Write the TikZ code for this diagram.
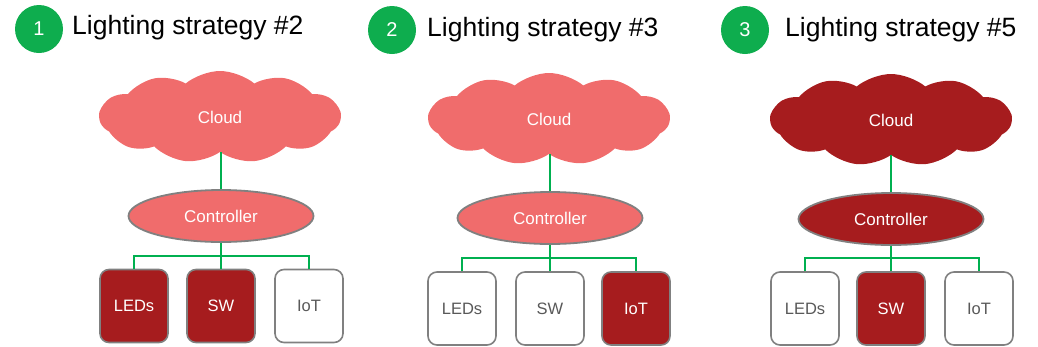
\documentclass[tikz,border=0pt]{standalone}
\usepackage{fontspec}
\setmainfont{Liberation Sans}
\usetikzlibrary{shapes.symbols}
\usetikzlibrary{shapes.geometric}
\usetikzlibrary{positioning}

\definecolor{lightred}{RGB}{240,108,108}
\definecolor{darkred}{RGB}{166,28,30}
\definecolor{busgreen}{RGB}{0,176,80}
\definecolor{badgegreen}{RGB}{14,173,78}
\definecolor{edgegray}{RGB}{128,128,128}
\definecolor{textgray}{RGB}{89,89,89}

\tikzset{
  badge/.style = {circle, fill=badgegreen, minimum size=48pt, inner sep=0pt,
                  text=white, font=\fontsize{20}{22}\selectfont},
  heading/.style = {anchor=west, inner sep=0pt, font=\fontsize{26.5}{30}\selectfont},
  cloudshape/.style = {cloud, cloud puffs=11, cloud puff arc=80, cloud ignores aspect,
                       minimum width=241pt, minimum height=92pt, inner sep=0pt,
                       fill=#1, text=white, font=\fontsize{17}{20}\selectfont},
  ctrl/.style = {ellipse, fill=#1, draw=edgegray, line width=1.8pt,
                 minimum width=185pt, minimum height=52pt, inner sep=0pt,
                 text=white, font=\fontsize{17}{20}\selectfont},
  part/.style = {rectangle, rounded corners=9pt, draw=edgegray, line width=1.6pt,
                 minimum width=68pt, minimum height=73pt, inner sep=0pt,
                 font=\fontsize{16.5}{20}\selectfont},
  on/.style = {part, fill=darkred, text=white},
  off/.style = {part, fill=white, text=textgray},
  bus/.style = {busgreen, line width=1.8pt}
}

\begin{document}
\begin{tikzpicture}[x=1pt,y=1pt]
    \useasboundingbox (0,0) rectangle (1038,-346);

    % headings
    \node[badge] (n1) at (39,-29) {1};
    \node[heading] (t1) at (72,-28) {Lighting strategy \#2};
    \node[badge] (n2) at (392,-30) {2};
    \node[heading] (t2) at (427,-30) {Lighting strategy \#3};
    \node[badge] (n3) at (745,-30) {3};
    \node[heading] (t3) at (785,-30) {Lighting strategy \#5};

    % strategy #2
    \node[cloudshape=lightred] (cloud1) at (220,-117) {Cloud};
    \node[ctrl=lightred] (ctrl1) at (221,-216) {Controller};
    \node[on] (leds1) at (134,-306) {LEDs};
    \node[on] (sw1) at (221,-306) {SW};
    \node[off] (iot1) at (309,-306) {IoT};
    \draw[bus] (ctrl1.north) -- (ctrl1.north |- cloud1.south);
    \draw[bus] (ctrl1.south) -- (sw1.north);
    \draw[bus] (leds1.north) -- ++(0,13) -| (iot1.north);

    % strategy #3
    \node[cloudshape=lightred] (cloud2) at (549,-119) {Cloud};
    \node[ctrl=lightred] (ctrl2) at (550,-218) {Controller};
    \node[off] (leds2) at (462,-308.5) {LEDs};
    \node[off] (sw2) at (550,-308.5) {SW};
    \node[on] (iot2) at (636,-308.5) {IoT};
    \draw[bus] (ctrl2.north) -- (ctrl2.north |- cloud2.south);
    \draw[bus] (ctrl2.south) -- (sw2.north);
    \draw[bus] (leds2.north) -- ++(0,13) -| (iot2.north);

    % strategy #5
    \node[cloudshape=darkred] (cloud3) at (891,-120) {Cloud};
    \node[ctrl=darkred] (ctrl3) at (891,-219) {Controller};
    \node[off] (leds3) at (805,-308.5) {LEDs};
    \node[on] (sw3) at (891,-308.5) {SW};
    \node[off] (iot3) at (979,-308.5) {IoT};
    \draw[bus] (ctrl3.north) -- (ctrl3.north |- cloud3.south);
    \draw[bus] (ctrl3.south) -- (sw3.north);
    \draw[bus] (leds3.north) -- ++(0,13) -| (iot3.north);
\end{tikzpicture}
\end{document}
